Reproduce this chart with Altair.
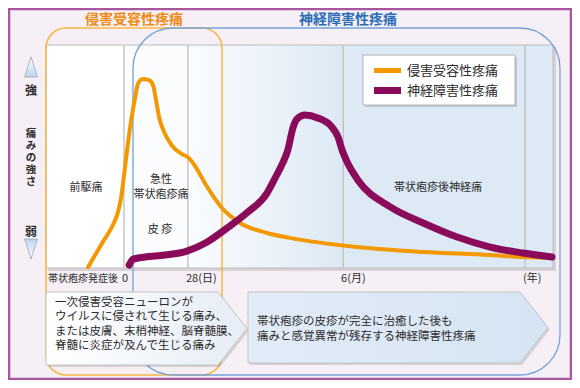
import altair as alt
import pandas as pd

FONT = "Noto Sans CJK JP"

# ---------------- data ----------------
# time position (0 = left edge of plot, 100 = right edge) and pain intensity (0..100)
orange_t = [8.3, 11.2, 13.2, 14.2, 14.8, 15.4, 16.0, 16.6, 17.6, 18.1, 19.1, 20.3, 21.1, 21.7,
            22.3, 23.3, 24.9, 26.8, 28.2, 29.4, 31.8, 34.7, 38.3, 43.6, 48.1, 61.3, 74.4, 87.6, 94.1, 100.0]
orange_i = [0.4, 11.7, 19.3, 25.1, 31.4, 41.7, 52.9, 63.2, 76.7, 82.5, 84.8, 84.3, 82.1, 75.3,
            67.7, 61.0, 54.7, 51.1, 49.3, 45.7, 36.3, 26.9, 20.2, 15.7, 13.5, 9.4, 7.2, 5.8, 4.9, 4.5]
purple_t = [16.4, 17.2, 19.5, 23.5, 27.8, 31.8, 35.7, 39.6, 43.6, 45.2, 46.7, 47.7, 48.7, 49.5,
            51.1, 53.6, 56.4, 57.6, 58.4, 59.4, 61.5, 67.9, 74.4, 81.1, 87.6, 94.1, 99.8]
purple_i = [1.3, 4.0, 4.9, 5.8, 7.6, 11.7, 17.9, 24.7, 33.6, 40.4, 47.1, 52.9, 62.8, 66.8,
            68.6, 67.3, 63.2, 58.7, 52.9, 47.5, 39.5, 27.4, 20.2, 13.9, 9.4, 6.7, 4.9]

tick_pos = [15.4, 28.0, 58.6, 94.5]
tick_labels = ["0", "28(日)", "6(月)", "(年)"]
axis_caption = ["帯状疱疹発症後"]
panel_start = [0.0, 15.4, 28.0, 58.6, 94.5]
panel_end = [15.4, 28.0, 58.6, 94.5, 100.0]

legend_names = ["侵害受容性疼痛", "神経障害性疼痛"]
group_titles = ["侵害受容性疼痛", "神経障害性疼痛"]
panel_texts = ["前駆痛", "急性", "帯状疱疹痛", "皮 疹", "帯状疱疹後神経痛"]
y_strong = "強"
y_title = ["痛", "み", "の", "強", "さ"]
y_weak = "弱"
left_note = ["一次侵害受容ニューロンが", "ウイルスに侵されて生じる痛み、",
             "または皮膚、末梢神経、脳脊髄膜、", "脊髄に炎症が及んで生じる痛み"]
right_note = ["帯状疱疹の皮疹が完全に治癒した後も", "痛みと感覚異常が残存する神経障害性疼痛"]

# ---------------- layout / styles ----------------
W, H = 564, 372
OX, OY = 8, 8
PL, PR, PT, PB = 46, 553, 45, 268

BG = "#f6f0f6"
FRAME = "#a8579f"
ORANGE = "#f39800"
PURPLE = "#8b0b5b"
TXT = "#2b2b2b"
PANEL_BLUE = "#dde9f5"
panel_fill = ["#ffffff", "#fbfcfe", "gradient", PANEL_BLUE, PANEL_BLUE]


def to_t(px):
    return (px - PL) / (PR - PL) * 100


def to_i(py):
    return (PB - py) / (PB - PT) * 100


PX = alt.Scale(domain=[OX, OX + W], nice=False, zero=False)
PY = alt.Scale(domain=[OY + H, OY], nice=False, zero=False)
TX = alt.Scale(domain=[to_t(OX), to_t(OX + W)], nice=False, zero=False)
TY = alt.Scale(domain=[to_i(OY + H), to_i(OY)], nice=False, zero=False)


def pX(f="x"):
    return alt.X(f"{f}:Q", scale=PX, axis=None)


def pY(f="y"):
    return alt.Y(f"{f}:Q", scale=PY, axis=None)


def dX(f):
    return alt.X(f"{f}:Q", scale=TX, axis=None)


def dY(f):
    return alt.Y(f"{f}:Q", scale=TY, axis=None)


def grad(c0, c1, horizontal=True):
    return alt.Gradient(
        gradient="linear",
        stops=[alt.GradientStop(color=c0, offset=0), alt.GradientStop(color=c1, offset=1)],
        x1=0, y1=0, x2=1 if horizontal else 0, y2=0 if horizontal else 1,
    )


def box(x0, y0, x1, y1, **mk):
    return alt.Chart(pd.DataFrame({"x": [x0], "x2": [x1], "y": [y0], "y2": [y1]})).mark_rect(**mk).encode(
        x=pX("x"), x2=alt.X2("x2"), y=pY("y"), y2=alt.Y2("y2"))


def text(s, x, y, **mk):
    # y is the centre of the first line
    base = dict(font=FONT, color=TXT, fontSize=11, baseline="middle", align="center", lineBreak="\n")
    base.update(mk)
    return alt.Chart(pd.DataFrame({"x": [x], "y": [y], "t": [s]})).mark_text(**base).encode(
        x=pX("x"), y=pY("y"), text="t:N")


def arrow_box(x0, xb, xt, y0, y1, **mk):
    ym = (y0 + y1) / 2
    d = pd.DataFrame({"x": [x0, xb, xt], "y": [y0, y0, ym], "y2": [y1, y1, ym]})
    return alt.Chart(d).mark_area(orient="vertical", interpolate="linear", **mk).encode(
        x=pX("x"), y=pY("y"), y2=alt.Y2("y2"))


# ---------- group 1 : background (pixel space) ----------
g1 = alt.layer(
    box(9, 9, 571, 379, fill=BG, stroke=FRAME, strokeWidth=2.5),
    box(PL + 2, PT + 2, PR + 3, PB + 3, fill="#000000", opacity=0.12),
)

# ---------- group 2 : panels and time axis (data space) ----------
panels = pd.DataFrame({"t0": panel_start, "t1": panel_end, "lo": 0, "hi": 100, "c": panel_fill})
solid = alt.Chart(panels[panels.c != "gradient"]).mark_rect(stroke="#bcbcbc", strokeWidth=1).encode(
    x=dX("t0"), x2=alt.X2("t1"), y=dY("lo"), y2=alt.Y2("hi"), fill=alt.Fill("c:N", scale=None))
gpanel = alt.Chart(panels[panels.c == "gradient"]).mark_rect(
    stroke="#bcbcbc", strokeWidth=1, fill=grad("#fafcfe", PANEL_BLUE)).encode(
    x=dX("t0"), x2=alt.X2("t1"), y=dY("lo"), y2=alt.Y2("hi"))
ticks = alt.Chart(pd.DataFrame({"t": tick_pos, "label": tick_labels})).mark_text(
    font=FONT, fontSize=11, color=TXT, align="left", dx=-2, baseline="middle").encode(
    x=dX("t"), y=alt.value(278.5 - OY), text="label:N")
caption = alt.Chart(pd.DataFrame({"t": [0.0], "label": axis_caption})).mark_text(
    font=FONT, fontSize=10, color=TXT, align="left", dx=2, baseline="middle").encode(
    x=dX("t"), y=alt.value(278.5 - OY), text="label:N")
g2 = alt.layer(solid, gpanel, ticks, caption)

# ---------- group 3 : the two group outlines (pixel space) ----------
g3 = alt.layer(
    box(46, 28, 222, 375, fillOpacity=0, stroke="#f7b741", strokeWidth=1.5, cornerRadius=20),
    box(133, 28, 560, 375, fillOpacity=0, stroke="#73a2d9", strokeWidth=1.3, cornerRadius=40),
)

# ---------- group 4 : pain curves (data space) ----------
odf = pd.DataFrame({"t": orange_t, "i": orange_i, "o": range(len(orange_t))})
pdf = pd.DataFrame({"t": purple_t, "i": purple_i, "o": range(len(purple_t))})
g4 = alt.layer(
    alt.Chart(odf).mark_line(color=ORANGE, strokeWidth=4, interpolate="monotone", strokeCap="round").encode(
        x=dX("t"), y=dY("i"), order="o:Q"),
    alt.Chart(pdf).mark_line(color=PURPLE, strokeWidth=7, interpolate="monotone", strokeCap="round").encode(
        x=dX("t"), y=dY("i"), order="o:Q"),
)

# ---------- group 5 : annotations (pixel space) ----------
tri = lambda x, y, shape, c0, c1: alt.Chart(pd.DataFrame({"x": [x], "y": [y]})).mark_point(
    shape=shape, size=400, filled=True, fill=grad(c0, c1, horizontal=False),
    stroke="#9aa7b5", strokeWidth=0.8, opacity=1).encode(x=pX("x"), y=pY("y"))

legend = alt.layer(
    box(365, 57, 517, 107, fill="#000000", opacity=0.15),
    box(363, 55, 515, 105, fill="#ffffff", stroke="#b3b3b3", strokeWidth=1),
    alt.Chart(pd.DataFrame({"x": [374], "x2": [401], "y": [70.5]})).mark_rule(
        color=ORANGE, strokeWidth=5).encode(x=pX("x"), x2=alt.X2("x2"), y=pY("y")),
    alt.Chart(pd.DataFrame({"x": [374], "x2": [401], "y": [90.5]})).mark_rule(
        color=PURPLE, strokeWidth=7).encode(x=pX("x"), x2=alt.X2("x2"), y=pY("y")),
    text(legend_names[0], 407, 71, fontSize=13, align="left"),
    text(legend_names[1], 407, 91, fontSize=13, align="left"),
)

notes = alt.layer(
    arrow_box(48, 220, 249, 294, 367, fill="#000000", opacity=0.13),
    arrow_box(46, 218, 247, 292, 365, fill=grad("#ffffff", "#e6edf6"), stroke="#c3c3c3", strokeWidth=1),
    arrow_box(250, 522, 550, 294, 365, fill="#000000", opacity=0.13),
    arrow_box(248, 520, 548, 292, 363, fill=grad("#e2ecf8", "#d6e4f3"), stroke="#c3c3c3", strokeWidth=1),
    text("\n".join(left_note), 55, 303, fontSize=11.5, align="left", lineHeight=14.3),
    text("\n".join(right_note), 257, 322, fontSize=11.5, align="left", lineHeight=14.8),
)

vtitle = alt.Chart(pd.DataFrame({"c": y_title, "k": range(len(y_title))})).transform_calculate(
    x="31", y="134 + datum.k * 12").mark_text(
    font=FONT, fontSize=10.5, fontWeight="bold", color=TXT, baseline="middle", align="center").encode(
    x=pX("x"), y=pY("y"), text="c:N")

labels = alt.layer(
    text(group_titles[0], 134, 19.5, fontSize=14, fontWeight="bold", color="#f08a12"),
    text(group_titles[1], 348, 19.5, fontSize=14, fontWeight="bold", color="#2a6db5"),
    text(y_strong, 31, 91, fontSize=12, fontWeight="bold"),
    vtitle,
    text(y_weak, 31, 232, fontSize=12, fontWeight="bold"),
    text(panel_texts[0], 86, 188),
    text(panel_texts[1], 161, 180),
    text(panel_texts[2], 161, 195),
    text(panel_texts[3], 160, 230),
    text(panel_texts[4], 438, 188),
    tri(31, 67, "M0,-1L0.65,1L-0.65,1Z", "#ffffff", "#bcd5ee"),
    tri(31, 249, "M-0.65,-1L0.65,-1L0,1Z", "#bcd5ee", "#ffffff"),
)

g5 = alt.layer(legend, notes, labels)

chart = alt.layer(g1, g2, g3, g4, g5).resolve_scale(x="independent", y="independent").properties(
    width=W, height=H, padding=0, autosize=alt.AutoSizeParams(type="none"), background=BG
).configure_view(stroke=None)

chart.save("out.html", embed_options={"renderer": "svg", "actions": False})
